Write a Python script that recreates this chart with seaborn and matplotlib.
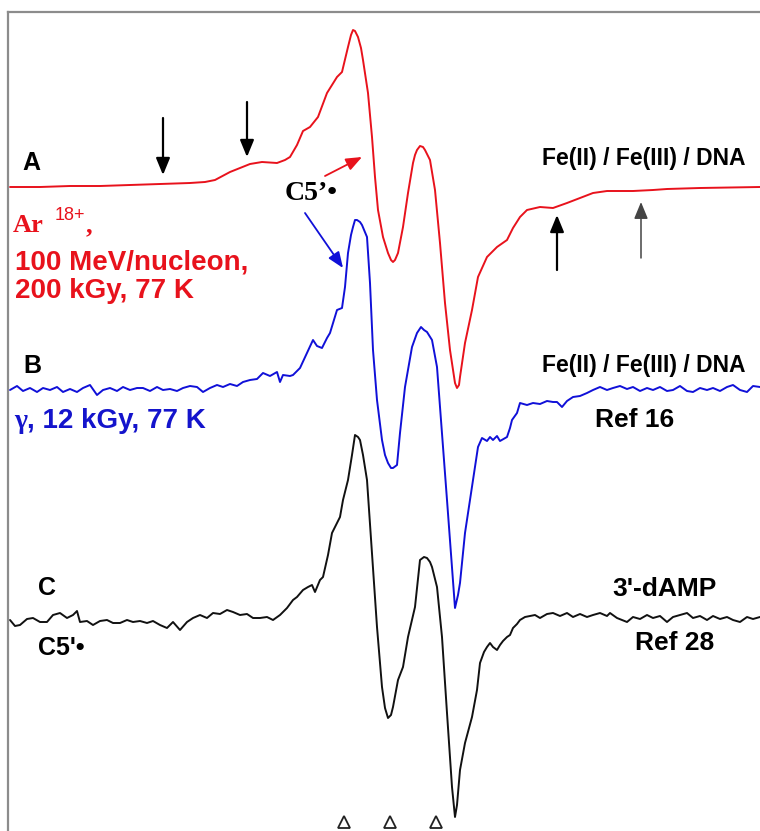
import numpy as np
import pandas as pd
import matplotlib
matplotlib.use("Agg")
import matplotlib.pyplot as plt
import seaborn as sns

# ---------------- data (field offset in arb. units, derivative signal in arb. units) ----------------
field_A = [-380, -350, -320, -290, -260, -230, -200, -185, -175, -160, -140, -128, -113, -105, -100,
           -93, -87, -80, -72, -63, -53, -48, -42, -39, -37, -35, -32, -29, -27, -22, -18, -15, -12, -7, -2,
           1, 3, 5, 8, 13, 18, 23, 25, 27, 30, 33, 35, 40, 45, 50, 55, 60, 65, 67, 69, 70, 75, 82, 88, 97,
           107, 117, 123, 130, 137, 150, 163, 177, 190, 203, 217, 243, 263, 277, 310, 370]
signal_A = [0, 0, 1, 1, 2, 3, 4, 5, 7, 15, 23, 25, 24, 27, 30,
            42, 56, 60, 70, 94, 110, 115, 140, 152, 157, 156, 150, 139, 127, 94, 50, 10, -23, -50, -66,
            -73, -75, -73, -66, -40, -6, 24, 32, 37, 41, 40, 37, 27, -3, -56, -116, -163, -196, -201, -198, -190, -156, -123, -90, -70,
            -60, -53, -41, -30, -23, -20, -21, -16, -11, -6, -4, -4, -3, -2, -1, 0]

field_B = [-380, -373, -367, -360, -353, -347, -340, -333, -327, -320, -313, -307, -300, -293, -287,
           -280, -273, -267, -260, -253, -247, -240, -233, -227, -220, -213, -207, -200, -193, -187,
           -180, -173, -167, -160, -153, -147, -140, -133, -127, -120, -113, -110, -107, -100, -97,
           -90, -83, -77, -73, -68, -63, -60, -53, -48, -45, -42, -39, -37, -35, -33, -30, -28, -23,
           -20, -17, -13, -8, -5, -2, 1, 3, 7, 10, 15, 22, 27, 31, 34, 37, 42, 47, 52, 57, 62, 65,
           68, 70, 75, 82, 88, 92, 97, 100, 103, 107, 110, 117, 120, 122, 127, 130, 137, 143, 150,
           157, 163, 167, 172, 177, 183, 190, 197, 203, 210, 217, 223, 230, 237, 243, 250, 257, 263,
           270, 277, 283, 290, 297, 303, 310, 317, 323, 330, 337, 343, 350, 357, 363, 370]
signal_B = [-1, 3, -2, 1, -3, 1, -1, 2, -3, 0, -3, 1, 4, -6, -1,
            1, -2, 2, -1, 1, 1, -2, 2, -1, 0, -2, 1, 3, 2, -3,
            1, 4, 2, 5, 3, 7, 9, 10, 16, 13, 17, 7, 14, 13, 14,
            21, 36, 49, 43, 41, 51, 56, 79, 81, 102, 136, 154, 162, 169, 169, 167, 164, 152,
            106, 39, -11, -51, -66, -74, -79, -79, -76, -44, 2, 42, 56, 62, 59, 57, 49, 22, -44, -111, -178, -219,
            -206, -194, -144, -98, -58, -49, -52, -48, -51, -47, -52, -48, -39, -31, -24, -14, -16, -14, -15,
            -12, -13, -13, -18, -12, -8, -7, -4, -1, 2, -1, 1, 3, 0, 2, -2, 1, -1,
            2, -2, -1, 3, -2, -3, 1, -1, 1, -2, 2, 4, -1, -3, 3, 2]

field_C = [-380, -375, -370, -363, -357, -350, -343, -337, -330, -323, -317, -313, -310, -303, -297,
           -290, -283, -277, -270, -263, -257, -250, -243, -237, -230, -223, -217, -210, -203, -197,
           -190, -183, -177, -170, -163, -157, -150, -143, -137, -130, -123, -117, -110, -103, -97,
           -93, -87, -82, -78, -75, -70, -67, -62, -58, -53, -50, -47, -42, -38, -35, -32, -30, -27,
           -23, -18, -13, -8, -5, -2, 1, 3, 8, 13, 18, 22, 25, 30, 34, 37, 40, 42, 47, 52, 57, 62,
           65, 67, 70, 75, 82, 87, 90, 94, 97, 100, 103, 107, 110, 113, 117, 120, 123, 127, 130, 135,
           140, 145, 150, 157, 163, 170, 177, 183, 190, 197, 203, 210, 217, 220, 227, 237, 243, 250,
           257, 263, 270, 277, 283, 290, 297, 303, 310, 317, 323, 330, 337, 343, 350, 357, 363, 370]
signal_C = [-1, -7, -6, 0, 1, -3, -3, 4, 6, 1, 4, 8, -3, -2, -6,
            -2, -1, -4, -4, -1, -3, -2, -4, -2, -6, -9, -3, -11, -3, 1,
            4, 1, 6, 5, 9, 7, 4, 5, 1, 1, 2, -1, 4, 11, 19,
            22, 29, 32, 34, 27, 39, 42, 64, 86, 96, 102, 119, 139, 164, 184, 182, 179, 164,
            139, 66, -8, -68, -89, -99, -96, -88, -61, -48, -18, -1, 12, 59, 62, 61, 57, 52, 32, -18, -94, -168,
            -198, -186, -151, -124, -98, -71, -44, -33, -28, -24, -28, -31, -26, -22, -18, -16, -9, -5, -1, 2,
            3, 4, 1, 5, 6, 3, 6, 2, 5, 2, 4, 6, 3, 6, 1, -3, 2, 0,
            4, 1, 3, -3, 2, 4, 6, 1, 3, -1, 3, 0, 2, -1, -3, 2, 0, 2]

spectrum_names = ["A", "B", "C"]
spectrum_offsets = [644, 442, 212]
spectrum_colors = ["#e8121c", "#1010d8", "#111111"]
marker_fields = [-46, 0, 46]          # open triangles below spectrum C

# annotation arrows (field, y_start, y_end)
black_arrows = [(-227, 713, 656), (-143, 729, 674), (167, 561, 616)]
grey_arrows = [(251, 573, 629)]

# ---------------- figure ----------------
sns.set_theme(style="white")
plt.rcParams["font.family"] = ["Liberation Sans", "DejaVu Sans"]

fig = plt.figure(figsize=(7.6, 8.31), dpi=100)
ax = fig.add_axes([8 / 760, 0, 752 / 760, 819 / 831])

frames = []
for name, f, s, off in zip(spectrum_names, [field_A, field_B, field_C],
                           [signal_A, signal_B, signal_C], spectrum_offsets):
    frames.append(pd.DataFrame({"field": f, "signal": np.array(s) + off, "spectrum": name}))
df = pd.concat(frames, ignore_index=True)

palette = dict(zip(spectrum_names, spectrum_colors))
sns.lineplot(data=df, x="field", y="signal", hue="spectrum", palette=palette,
             estimator=None, sort=False, legend=False, linewidth=1.4, ax=ax)
for ln in ax.get_lines():
    ln.set_solid_joinstyle("round")

ax.plot(marker_fields, [9] * len(marker_fields), linestyle="none", marker="^",
        markersize=9, markerfacecolor="white", markeredgecolor="#222222",
        markeredgewidth=1.3, clip_on=False)

ax.set_xlim(-382, 370)
ax.set_ylim(0, 819)
ax.set_xticks([])
ax.set_yticks([])
ax.set_xlabel("")
ax.set_ylabel("")
for side in ["right", "bottom"]:
    ax.spines[side].set_visible(False)
for side in ["left", "top"]:
    ax.spines[side].set_visible(True)
    ax.spines[side].set_color("#8c8c8c")
    ax.spines[side].set_linewidth(1.6)

# arrows
for x, y0, y1 in black_arrows:
    ax.annotate("", xy=(x, y1), xytext=(x, y0),
                arrowprops=dict(arrowstyle="-|>,head_length=0.85,head_width=0.35",
                                color="black", lw=1.6, shrinkA=0, shrinkB=0))
for x, y0, y1 in grey_arrows:
    ax.annotate("", xy=(x, y1), xytext=(x, y0),
                arrowprops=dict(arrowstyle="-|>,head_length=0.85,head_width=0.35",
                                color="#444444", lw=1.1, shrinkA=0, shrinkB=0))
ax.annotate("", xy=(-28, 674), xytext=(-65, 655),
            arrowprops=dict(arrowstyle="-|>,head_length=0.8,head_width=0.32",
                            color="#e8121c", lw=1.3, shrinkA=0, shrinkB=0))
ax.annotate("", xy=(-47, 563), xytext=(-85, 618),
            arrowprops=dict(arrowstyle="-|>,head_length=0.8,head_width=0.32",
                            color="#1010d8", lw=1.3, shrinkA=0, shrinkB=0))

red = "#e8121c"
blue = "#1414cc"
serif = ["Liberation Serif", "DejaVu Serif"]

# left labels
ax.text(-368, 661, "A", fontsize=18, fontweight="bold", color="black", va="baseline")
ax.text(-367, 458, "B", fontsize=18, fontweight="bold", color="black", va="baseline")
ax.text(-352, 236, "C", fontsize=18, fontweight="bold", color="black", va="baseline")

ax.text(-377, 599, "Ar", fontsize=19, fontweight="bold", color=red, family=serif, va="baseline")
ax.text(-335, 611, "18+", fontsize=13, color=red, va="baseline")
ax.text(-304, 599, ",", fontsize=19, fontweight="bold", color=red, family=serif, va="baseline")
ax.text(-375, 562, "100 MeV/nucleon,", fontsize=20, fontweight="bold", color=red, va="baseline")
ax.text(-375, 533, "200 kGy, 77 K", fontsize=20, fontweight="bold", color=red, va="baseline")
ax.text(-376, 403, "γ", fontsize=20, fontweight="bold", color=blue, family=serif, va="baseline")
ax.text(-363, 403, ", 12 kGy, 77 K", fontsize=20, fontweight="bold", color=blue, va="baseline")
ax.text(-352, 176, "C5'•", fontsize=18, fontweight="bold", color="black", va="baseline")

ax.text(-105, 631, "C5’•", fontsize=20, fontweight="bold", color="black", family=serif, va="baseline")

# right labels
ax.text(355, 666, "Fe(II) / Fe(III) / DNA", fontsize=16.5, fontweight="bold", color="black",
        ha="right", va="baseline")
ax.text(355, 459, "Fe(II) / Fe(III) / DNA", fontsize=16.5, fontweight="bold", color="black",
        ha="right", va="baseline")
ax.text(205, 404, "Ref 16", fontsize=19, fontweight="bold", color="black", va="baseline")
ax.text(222, 235, "3'-dAMP", fontsize=19, fontweight="bold", color="black", va="baseline")
ax.text(245, 181, "Ref 28", fontsize=19, fontweight="bold", color="black", va="baseline")

fig.savefig("out.png", dpi=100, facecolor="white")
